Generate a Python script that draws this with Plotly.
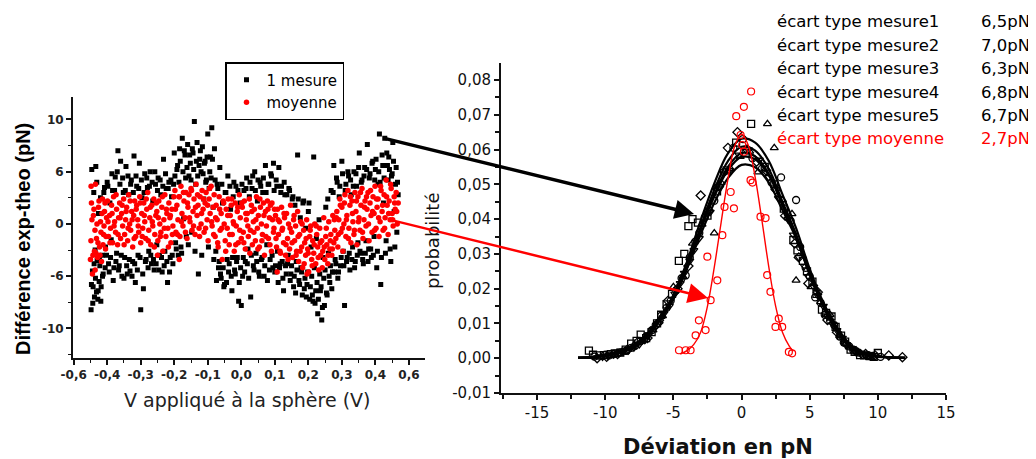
import plotly.graph_objects as go

# ---------------- left panel data : Différence exp-theo (pN) vs V (V) ----------------
mesure_pts = [
    (-0.448,-8.2),(-0.446,5.2),(-0.444,-4.5),(-0.442,-6.0),(-0.440,3.0),(-0.438,-7.0),(-0.436,-2.5),
    (-0.434,5.5),(-0.432,-6.5),(-0.430,-3.5),(-0.428,-7.2),(-0.426,1.0),(-0.424,-5.5),(-0.422,-4.0),
    (-0.420,2.5),(-0.418,-6.0),(-0.415,-3.0),(-0.412,-4.8),(-0.408,3.5),(-0.405,-2.2),(-0.400,4.0),
    (-0.396,-3.8),(-0.392,2.0),(-0.388,-1.5),(-0.384,3.2),(-0.380,-4.2),(-0.376,4.5),(-0.372,-2.8),
    (-0.368,7.0),(-0.364,-4.0),(-0.360,6.0),(-0.356,-5.0),(-0.352,3.0),(-0.348,-3.2),(-0.344,5.5),
    (-0.340,-4.8),(-0.336,2.8),(-0.332,-4.5),(-0.328,4.2),(-0.324,-3.6),(-0.320,6.5),(-0.316,-5.6),
    (-0.312,3.6),(-0.308,-3.0),(-0.304,5.8),(-0.300,-8.2),(-0.296,2.5),(-0.292,-6.2),(-0.288,4.8),
    (-0.284,-3.4),(-0.280,3.5),(-0.276,-2.6),(-0.272,5.0),(-0.268,-3.8),(-0.264,2.2),(-0.260,-4.4),
    (-0.256,3.8),(-0.252,-2.0),(-0.248,4.4),(-0.244,-3.0),(-0.240,2.8),(-0.236,-4.6),(-0.232,6.2),
    (-0.228,-2.6),(-0.224,3.4),(-0.220,-5.6),(-0.216,4.0),(-0.212,-3.2),(-0.208,2.6),(-0.204,-3.8),
    (-0.200,6.8),(-0.196,-1.8),(-0.192,5.2),(-0.188,-3.0),(-0.184,7.2),(-0.180,-2.2),(-0.176,8.2),
    (-0.172,0.5),(-0.168,6.6),(-0.164,-1.2),(-0.160,7.6),(-0.156,4.6),(-0.152,5.8),(-0.148,-0.8),
    (-0.144,6.8),(-0.140,9.8),(-0.136,3.8),(-0.132,7.8),(-0.128,-4.8),(-0.124,6.2),(-0.120,5.0),
    (-0.116,7.4),(-0.112,2.4),(-0.108,6.0),(-0.104,4.2),(-0.100,8.6),(-0.096,3.4),(-0.092,6.4),
    (-0.088,9.2),(-0.084,1.6),(-0.080,7.2),(-0.076,-2.6),(-0.072,3.8),(-0.068,-4.2),(-0.064,5.4),
    (-0.060,-5.2),(-0.056,2.0),(-0.052,-6.0),(-0.048,3.0),(-0.044,-5.6),(-0.040,4.6),(-0.036,-3.8),
    (-0.032,1.4),(-0.028,-6.4),(-0.024,2.6),(-0.020,-4.4),(-0.016,3.6),(-0.012,-3.2),(-0.008,-7.4),
    (-0.004,2.0),(0.000,-7.8),(0.004,-5.0),(0.008,3.2),(0.012,-3.6),(0.016,4.4),(0.020,-2.4),
    (0.024,2.6),(0.028,-7.0),(0.032,3.4),(0.036,-4.0),(0.040,5.0),(0.044,-2.8),(0.048,2.2),
    (0.052,-4.6),(0.056,4.0),(0.060,-3.4),(0.064,3.0),(0.068,-5.0),(0.072,5.6),(0.076,-2.0),
    (0.080,3.8),(0.084,-4.4),(0.088,4.8),(0.092,-3.0),(0.096,5.8),(0.100,-4.6),(0.104,4.2),
    (0.108,-2.6),(0.112,5.4),(0.116,-3.8),(0.120,3.6),(0.124,-5.2),(0.128,4.0),(0.132,-4.0),
    (0.136,2.8),(0.140,-3.0),(0.144,3.2),(0.148,-4.8),(0.152,2.4),(0.156,-6.0),(0.160,1.8),
    (0.164,-3.6),(0.168,6.6),(0.172,-5.4),(0.176,0.6),(0.180,-4.6),(0.184,2.0),(0.188,-6.2),
    (0.192,-0.4),(0.196,-5.8),(0.200,1.2),(0.204,-7.2),(0.208,-2.2),(0.212,-6.8),(0.216,6.4),
    (0.220,-7.6),(0.224,-1.4),(0.228,-8.6),(0.232,0.4),(0.236,-6.4),(0.240,-9.2),(0.244,-3.2),
    (0.248,-7.8),(0.252,1.6),(0.256,-6.8),(0.260,-2.8),(0.264,-5.6),(0.268,3.2),(0.272,-4.6),
    (0.276,5.6),(0.280,-3.4),(0.284,4.4),(0.288,-5.2),(0.292,2.6),(0.296,-4.0),(0.300,6.0),
    (0.304,-2.6),(0.308,-7.8),(0.312,3.8),(0.316,-3.2),(0.320,4.6),(0.324,-4.4),(0.328,2.8),
    (0.332,-2.2),(0.336,5.0),(0.340,-3.6),(0.344,3.6),(0.348,-1.8),(0.352,6.8),(0.356,-2.8),
    (0.360,4.2),(0.364,-3.8),(0.368,5.4),(0.372,-1.6),(0.376,7.6),(0.380,-2.4),(0.384,4.8),
    (0.388,-3.2),(0.392,6.0),(0.396,-1.2),(0.400,5.2),(0.404,-4.2),(0.408,3.8),(0.412,8.6),
    (0.416,-5.8),(0.420,6.6),(0.424,2.0),(0.428,8.2),(0.432,-1.6),(0.436,5.6),(0.440,6.4),
    (0.444,-2.4),(0.448,4.6),(0.452,7.8),(0.456,1.2),(0.460,3.8),(0.464,-0.8),(0.468,2.8),
    # second pass of the sweep
    (-0.447,-5.8),(-0.443,-7.6),(-0.439,-3.8),(-0.435,-5.2),(-0.431,4.0),(-0.427,-6.4),(-0.423,-3.2),
    (-0.419,-7.4),(-0.414,-5.0),(-0.410,3.0),(-0.406,-4.2),(-0.402,-3.0),
    (-0.398,3.6),(-0.394,-4.6),(-0.390,-3.2),(-0.386,4.8),(-0.382,-5.4),(-0.378,3.2),(-0.374,-3.6),
    (-0.370,5.0),(-0.366,-4.4),(-0.362,3.8),(-0.358,-3.0),(-0.354,4.4),(-0.350,-5.2),(-0.346,3.2),
    (-0.342,-4.0),(-0.338,4.6),(-0.334,-3.4),(-0.330,3.8),(-0.326,-5.0),(-0.322,3.0),(-0.318,-3.8),
    (-0.314,4.6),(-0.310,-4.4),(-0.306,3.4),(-0.302,-3.2),(-0.298,4.2),(-0.294,-4.8),(-0.290,3.0),
    (-0.286,-3.6),(-0.282,4.4),(-0.278,-4.2),(-0.274,3.6),(-0.270,-3.0),(-0.266,4.0),(-0.262,-3.4),
    (-0.258,5.0),(-0.254,-3.8),(-0.250,3.2),(-0.246,-4.4),(-0.242,4.2),(-0.238,-3.2),(-0.234,3.6),
    (-0.230,-4.0),(-0.226,4.8),(-0.222,-3.6),(-0.218,3.4),(-0.214,-4.6),(-0.210,4.2),(-0.206,-3.0),
    (-0.202,3.8),
    (-0.198,4.6),(-0.194,-2.4),(-0.190,5.6),(-0.186,4.0),(-0.182,6.0),(-0.178,-2.8),(-0.174,5.0),
    (-0.170,7.0),(-0.166,4.4),(-0.162,5.4),(-0.158,-2.0),(-0.154,6.6),(-0.150,4.2),(-0.146,7.2),
    (-0.142,5.2),(-0.138,-2.6),(-0.134,6.0),(-0.130,4.6),(-0.126,5.6),(-0.122,7.0),(-0.118,-3.0),
    (-0.114,4.8),(-0.110,5.8),(-0.106,4.0),(-0.102,6.4),(-0.098,-2.2),(-0.094,5.0),(-0.090,4.4),
    (-0.086,6.2),(-0.082,-3.4),
    (-0.078,4.2),(-0.074,-5.4),(-0.070,3.4),(-0.066,-3.6),(-0.062,-4.8),(-0.058,3.8),(-0.054,-4.2),
    (-0.050,-5.8),(-0.046,3.0),(-0.042,-3.4),(-0.038,-4.6),(-0.034,3.6),(-0.030,-5.0),(-0.026,-3.2),
    (-0.022,4.0),(-0.018,-4.8),(-0.014,-3.6),(-0.010,3.2),(-0.006,-5.6),(-0.002,-4.2),(0.002,3.8),
    (0.006,-3.2),(0.010,-4.6),(0.014,3.4),(0.018,-3.8),(0.022,-5.2),(0.026,4.0),(0.030,-3.0),
    (0.034,4.6),(0.038,-4.4),(0.042,3.2),(0.046,-3.6),(0.050,4.2),(0.054,-5.0),(0.058,3.6),
    (0.062,-3.2),(0.066,4.4),(0.070,-4.0),(0.074,3.0),(0.078,-5.4),(0.082,3.8),(0.086,-3.4),
    (0.090,4.6),(0.094,-4.2),(0.098,3.2),
    (0.102,-4.0),(0.106,3.6),(0.110,-5.6),(0.114,-4.2),(0.118,3.0),(0.122,-3.6),(0.126,-6.4),
    (0.130,2.8),(0.134,-4.8),(0.138,-3.8),(0.142,3.4),(0.146,-5.4),(0.150,-4.0),(0.154,2.6),
    (0.158,-5.0),(0.162,-6.6),(0.166,-4.4),(0.170,2.4),(0.174,-5.8),(0.178,-4.2),(0.182,-6.8),
    (0.186,2.2),(0.190,-5.2),(0.194,-7.0),(0.198,-4.6),(0.202,2.0),(0.206,-6.0),(0.210,-5.0),
    (0.214,-7.4),(0.218,-4.2),(0.222,-6.4),(0.226,-5.6),(0.230,-7.2),(0.234,-4.8),(0.238,-6.0),
    (0.242,-8.0),(0.246,-5.2),(0.250,-4.4),(0.254,-6.6),(0.258,2.4),(0.262,-5.0),(0.266,-4.0),
    (0.270,-6.2),(0.274,3.0),(0.278,-4.6),
    (0.282,-3.8),(0.286,4.0),(0.290,-4.6),(0.294,3.6),(0.298,-3.2),(0.302,4.8),(0.306,-4.0),
    (0.310,3.2),(0.314,-3.6),(0.318,5.0),(0.322,-2.8),(0.326,4.2),(0.330,-3.4),(0.334,3.6),
    (0.338,-4.2),(0.342,4.8),(0.346,-3.0),(0.350,5.4),(0.354,-2.6),(0.358,4.0),(0.362,-3.4),
    (0.366,4.6),(0.370,-2.8),(0.374,5.2),(0.378,-3.6),(0.382,4.4),(0.386,-2.4),(0.390,5.8),
    (0.394,-3.0),(0.398,4.2),(0.402,6.2),(0.406,-2.6),(0.410,5.0),(0.414,4.0),(0.418,-3.2),
    (0.422,5.6),(0.426,4.4),(0.430,-2.8),(0.434,6.8),(0.438,4.2),(0.442,5.2),(0.446,-3.6),
    (0.450,4.8),(0.454,6.0),(0.458,-2.2),(0.462,5.4),(0.466,4.0),
]

moyenne_pts = [
    (-0.450,-3.4),(-0.447,2.0),(-0.444,-4.8),(-0.441,0.8),(-0.438,-2.6),(-0.435,3.8),(-0.432,-1.4),
    (-0.429,-3.2),(-0.426,1.6),(-0.423,-2.2),(-0.420,0.2),(-0.417,-3.6),(-0.414,2.4),(-0.411,-1.0),
    (-0.408,1.2),(-0.405,-2.4),(-0.402,0.6),(-0.448,3.6),(-0.436,-4.4),
    (-0.399,2.2),(-0.396,-1.2),(-0.393,0.8),(-0.390,-0.4),(-0.387,1.8),(-0.384,-1.8),(-0.381,2.6),
    (-0.378,0.2),(-0.375,-0.8),(-0.372,1.4),(-0.369,-2.0),(-0.366,0.6),(-0.363,2.0),(-0.360,-1.4),
    (-0.357,1.0),(-0.354,-0.2),(-0.351,2.4),(-0.348,-1.0),(-0.345,0.4),(-0.342,1.6),(-0.339,-1.6),
    (-0.336,2.8),(-0.333,0.0),(-0.330,-0.6),(-0.327,1.2),(-0.324,-2.2),(-0.321,0.8),(-0.318,2.2),
    (-0.315,-1.2),(-0.312,1.8),(-0.309,0.4),(-0.306,-0.8),(-0.303,2.6),(-0.300,-1.8),(-0.297,1.0),
    (-0.294,-0.4),(-0.291,2.0),(-0.288,0.2),(-0.285,-1.4),(-0.282,1.4),(-0.279,3.0),(-0.276,-0.6),
    (-0.273,0.6),(-0.270,-2.0),(-0.267,1.8),(-0.264,-0.2),(-0.261,2.4),(-0.258,-1.0),(-0.255,0.8),
    (-0.252,1.2),(-0.249,-1.6),(-0.246,2.2),(-0.243,0.0),(-0.240,-0.8),(-0.237,1.6),(-0.234,-2.6),
    (-0.231,0.4),(-0.228,2.8),(-0.225,-1.2),(-0.222,1.0),(-0.219,-0.4),(-0.216,2.0),(-0.213,0.6),
    (-0.210,-1.8),(-0.207,1.4),(-0.204,-0.2),(-0.201,2.6),(-0.250,-3.0),
    (-0.198,3.2),(-0.195,-0.8),(-0.192,1.8),(-0.189,0.4),(-0.186,2.6),(-0.183,-1.2),(-0.180,3.6),
    (-0.177,1.0),(-0.174,-0.2),(-0.171,2.2),(-0.168,0.6),(-0.165,3.0),(-0.162,-1.4),(-0.159,1.6),
    (-0.156,2.8),(-0.153,0.2),(-0.150,3.4),(-0.147,-0.6),(-0.144,1.2),(-0.141,2.4),(-0.138,-1.0),
    (-0.135,3.8),(-0.132,0.8),(-0.129,1.8),(-0.126,-0.4),(-0.123,2.6),(-0.120,0.0),(-0.117,3.2),
    (-0.114,1.4),(-0.111,-0.8),(-0.108,2.0),(-0.105,3.0),(-0.102,0.4),(-0.099,-1.6),(-0.096,2.4),
    (-0.093,1.0),(-0.090,3.6),(-0.087,-0.2),(-0.084,1.6),(-0.081,2.8),(-0.185,-3.4),
    (-0.078,-1.2),(-0.075,1.8),(-0.072,0.4),(-0.069,-2.2),(-0.066,2.6),(-0.063,-0.6),(-0.060,1.0),
    (-0.057,-3.4),(-0.054,2.2),(-0.051,0.0),(-0.048,-1.6),(-0.045,1.4),(-0.042,-0.4),(-0.039,2.4),
    (-0.036,-2.0),(-0.033,0.8),(-0.030,1.8),(-0.027,-1.0),(-0.024,0.2),(-0.021,-2.6),(-0.018,2.0),
    (-0.015,-0.2),(-0.012,1.2),(-0.009,-1.8),(-0.006,2.8),(-0.003,0.6),(0.000,-1.4),(0.003,1.6),
    (0.006,-0.8),(0.009,2.2),(0.012,-2.4),(0.015,0.4),(0.018,1.0),(0.021,-1.2),(0.024,2.4),
    (0.027,-0.6),(0.030,1.8),(0.033,-2.0),(0.036,0.2),(0.039,1.4),(0.042,-1.6),(0.045,2.6),
    (0.048,-0.4),(0.051,0.8),(0.054,-2.2),(0.057,1.6),(0.060,0.0),(0.063,-1.0),(0.066,2.0),
    (0.069,-3.0),(0.072,1.2),(0.075,-0.2),(0.078,2.2),(0.081,-1.4),(0.084,0.6),(0.087,1.8),
    (0.090,-2.6),(0.093,0.4),(0.096,-0.8),(0.099,1.4),
    (0.102,0.8),(0.105,-2.2),(0.108,1.4),(0.111,-1.0),(0.114,0.2),(0.117,-2.8),(0.120,1.6),
    (0.123,-0.4),(0.126,-1.8),(0.129,0.6),(0.132,-3.0),(0.135,1.0),(0.138,-1.4),(0.141,0.0),
    (0.144,-2.4),(0.147,1.8),(0.150,-0.8),(0.153,-3.2),(0.156,0.4),(0.159,-1.6),(0.162,-0.2),
    (0.165,-2.6),(0.168,1.2),(0.171,-3.6),(0.174,-1.0),(0.177,0.2),(0.180,-2.2),(0.183,-4.2),
    (0.186,-0.6),(0.189,-1.8),(0.192,-3.0),(0.195,0.4),(0.198,-2.4),(0.201,-4.6),(0.204,-1.2),
    (0.207,-0.2),(0.210,-3.4),(0.213,-1.6),(0.216,-2.8),(0.219,0.0),(0.222,-3.8),(0.225,-1.0),
    (0.228,-2.2),(0.231,-4.4),(0.234,-0.4),(0.237,-3.0),(0.240,-1.6),(0.243,-2.6),(0.246,0.6),
    (0.249,-3.4),(0.252,-1.2),(0.255,-2.0),(0.258,-3.8),(0.261,0.2),(0.264,-2.4),(0.267,-1.0),
    (0.270,-3.0),(0.273,0.8),(0.276,-1.8),(0.279,-0.6),(0.107,-4.6),(0.196,-4.8),
    (0.282,-1.4),(0.285,1.2),(0.288,-2.2),(0.291,0.4),(0.294,2.4),(0.297,-0.8),(0.300,1.6),
    (0.303,-2.6),(0.306,0.0),(0.309,2.8),(0.312,-1.2),(0.315,0.8),(0.318,3.2),(0.321,-0.4),
    (0.324,1.8),(0.327,-1.8),(0.330,2.2),(0.333,0.2),(0.336,-1.0),(0.339,3.0),(0.342,1.2),
    (0.345,-2.0),(0.348,2.6),(0.351,0.6),(0.354,-0.6),(0.357,1.8),(0.360,3.4),(0.363,-1.4),
    (0.366,0.4),(0.369,2.2),(0.372,-0.2),(0.375,1.4),(0.378,3.0),(0.381,-1.6),(0.384,2.0),
    (0.387,0.8),(0.390,-0.8),(0.393,2.6),(0.396,1.0),(0.399,3.6),(0.402,-0.4),(0.405,1.6),
    (0.408,2.4),(0.411,-1.2),(0.414,0.2),(0.417,3.2),(0.420,1.2),(0.423,-0.6),(0.426,2.8),
    (0.429,0.6),(0.432,4.2),(0.435,1.8),(0.438,-1.0),(0.441,2.2),(0.444,0.4),(0.447,3.4),
    (0.450,1.0),(0.453,-0.2),(0.456,2.6),(0.459,1.4),(0.462,3.0),(0.465,0.0),(0.468,2.0),
    # second pass
    (-0.4485,-1.6),(-0.4455,0.4),(-0.4425,-3.0),(-0.4395,1.4),(-0.4365,-0.6),(-0.4335,-2.8),(-0.4305,0.0),
    (-0.4275,-1.8),(-0.4245,2.2),(-0.4215,-3.0),(-0.4185,-0.8),(-0.4155,1.0),(-0.4125,-2.0),(-0.4095,-0.2),
    (-0.4065,2.0),(-0.4035,-1.2),
    (-0.3975,0.2),(-0.3915,-1.8),(-0.3855,1.0),(-0.3795,-0.2),(-0.3735,2.8),(-0.3675,-1.0),(-0.3615,0.6),
    (-0.3555,1.8),(-0.3495,-2.0),(-0.3435,1.2),(-0.3375,-0.4),(-0.3315,2.2),(-0.3255,0.4),(-0.3195,-1.4),
    (-0.3135,1.4),(-0.3075,-0.2),(-0.3015,2.0),(-0.2955,-1.2),(-0.2895,0.8),(-0.2835,2.4),(-0.2775,-1.6),
    (-0.2715,1.6),(-0.2655,0.2),(-0.2595,-2.2),(-0.2535,2.0),(-0.2475,0.6),(-0.2415,-1.2),(-0.2355,2.6),
    (-0.2295,-0.4),(-0.2235,1.4),(-0.2175,-2.2),(-0.2115,0.8),(-0.2055,-1.0),
    (-0.1965,1.4),(-0.1905,-1.0),(-0.1845,2.6),(-0.1785,0.2),(-0.1725,3.0),(-0.1665,-0.8),(-0.1605,2.0),
    (-0.1545,0.6),(-0.1485,3.2),(-0.1425,-0.2),(-0.1365,1.6),(-0.1305,2.8),(-0.1245,-1.2),(-0.1185,1.0),
    (-0.1125,2.4),(-0.1065,-0.4),(-0.1005,1.8),(-0.0945,3.4),(-0.0885,0.2),(-0.0825,-1.0),
    (-0.0765,0.6),(-0.0705,-1.8),(-0.0645,1.4),(-0.0585,-0.4),(-0.0525,2.0),(-0.0465,-2.6),(-0.0405,0.8),
    (-0.0345,-1.0),(-0.0285,2.4),(-0.0225,0.0),(-0.0165,-2.0),(-0.0105,1.6),(-0.0045,-0.6),(0.0015,2.0),
    (0.0075,-1.8),(0.0135,1.0),(0.0195,-0.2),(0.0255,-2.8),(0.0315,1.2),(0.0375,-0.8),(0.0435,0.4),
    (0.0495,-2.4),(0.0555,2.4),(0.0615,-1.6),(0.0675,0.8),(0.0735,-1.2),(0.0795,1.4),(0.0855,-2.0),
    (0.0915,2.0),(0.0975,-0.4),
    (0.1035,-1.4),(0.1095,0.4),(0.1155,-2.6),(0.1215,-0.6),(0.1275,1.0),(0.1335,-2.0),(0.1395,-3.4),
    (0.1455,-0.4),(0.1515,-1.8),(0.1575,0.8),(0.1635,-3.0),(0.1695,-1.2),(0.1755,-2.6),(0.1815,0.0),
    (0.1875,-3.8),(0.1935,-1.4),(0.1995,-2.8),(0.2055,-0.6),(0.2115,-4.0),(0.2175,-2.0),(0.2235,-0.2),
    (0.2295,-3.2),(0.2355,-1.8),(0.2415,-4.2),(0.2475,-2.2),(0.2535,-0.4),(0.2595,-3.0),(0.2655,-1.6),
    (0.2715,-2.4),(0.2775,0.4),
    (0.2835,0.6),(0.2895,-1.0),(0.2955,1.8),(0.3015,-0.4),(0.3075,2.0),(0.3135,0.4),(0.3195,-1.4),
    (0.3255,2.6),(0.3315,1.0),(0.3375,-0.6),(0.3435,2.2),(0.3495,0.2),(0.3555,3.0),(0.3615,-0.8),
    (0.3675,1.6),(0.3735,2.6),(0.3795,0.0),(0.3855,3.2),(0.3915,1.2),(0.3975,-0.6),(0.4035,2.4),
    (0.4095,0.6),(0.4155,3.6),(0.4215,1.8),(0.4275,-0.4),(0.4335,2.6),(0.4395,1.0),(0.4455,3.8),
    (0.4515,0.4),(0.4575,2.0),(0.4635,1.2),
]

left_xticks = [-0.5, -0.4, -0.3, -0.2, -0.1, 0.0, 0.1, 0.2, 0.3, 0.4, 0.5]
left_xlabels = ["-0,6", "-0,4", "-0,3", "-0,2", "-0,1", "0,0", "0,1", "0,2", "0,3", "0,4", "0,6"]
left_yticks = [-10, -5, 0, 5, 10]
left_ylabels = ["-10", "-6", "0", "6", "10"]

# ---------------- right panel data : probabilité vs Déviation (pN) ----------------
mesure1_pts = [(-11.2,0.0022),(-10.4,0.0008),(-9.6,0.0012),(-8.9,0.0016),(-8.1,0.0042),(-7.4,0.0068),
    (-6.6,0.0075),(-5.9,0.0125),(-5.1,0.0185),(-4.6,0.0280),(-4.2,0.0300),(-3.6,0.0400),(-3.2,0.0390),
    (-2.5,0.0410),(-1.8,0.0480),(-1.1,0.0540),(-0.4,0.0620),(0.3,0.0590),(0.7,0.0674),(1.7,0.0550),
    (2.4,0.0500),(3.1,0.0430),(3.8,0.0340),(4.5,0.0280),(5.2,0.0220),(5.9,0.0140),(6.6,0.0120),
    (7.3,0.0065),(8.0,0.0025),(8.7,0.0009),(9.4,0.0006),(10.0,0.0015),
    (-10.9,0.0010),(-10.1,0.0009),(-9.3,0.0014),(-8.5,0.0025),(-7.7,0.0050),(-7.0,0.0058),(-6.2,0.0100),
    (-5.5,0.0155),(-3.9,0.0380),(4.1,0.0310),(4.8,0.0250),(5.5,0.0185),(6.2,0.0130),(6.9,0.0090),
    (7.6,0.0048),(8.3,0.0018),(9.0,0.0008),(9.7,0.0004)]
mesure2_pts = [(-10.8,0.0005),(-10.0,0.0010),(-9.3,0.0013),(-8.5,0.0021),(-7.8,0.0036),(-7.0,0.0063),
    (-6.3,0.0095),(-5.5,0.0145),(-4.8,0.0195),(-4.1,0.0238),(-3.4,0.0335),(-2.7,0.0405),(-2.0,0.0453),
    (-1.3,0.0535),(-0.6,0.0605),(0.1,0.0630),(0.8,0.0575),(1.5,0.0545),(2.2,0.0505),(2.9,0.0520),
    (3.6,0.0395),(4.0,0.0455),(4.7,0.0260),(5.4,0.0175),(6.1,0.0125),(6.8,0.0095),(7.5,0.0045),
    (8.2,0.0022),(8.9,0.0010),(9.6,0.0007),
    (-9.7,0.0008),(-8.9,0.0017),(-8.1,0.0030),(-7.4,0.0049),(-6.6,0.0080),(-5.9,0.0122),(-5.2,0.0165),
    (-4.4,0.0230),(-3.8,0.0290),(-3.1,0.0360),(4.3,0.0320),(5.0,0.0235),(5.8,0.0160),(6.5,0.0108),
    (7.2,0.0062),(7.9,0.0034),(8.6,0.0016),(9.3,0.0009),(10.2,0.0004)]
mesure3_pts = [(-10.3,0.0003),(-9.5,0.0009),(-8.8,0.0018),(-8.0,0.0032),(-7.3,0.0049),(-6.5,0.0081),
    (-5.8,0.0122),(-5.0,0.0205),(-4.3,0.0235),(-3.6,0.0330),(-2.9,0.0385),(-2.0,0.0360),(-1.5,0.0505),
    (-0.8,0.0545),(-0.1,0.0580),(0.6,0.0595),(1.2,0.0535),(1.9,0.0674),(2.4,0.0605),(3.0,0.0455),
    (3.7,0.0415),(4.0,0.0224),(5.1,0.0205),(5.8,0.0162),(6.5,0.0125),(7.2,0.0065),(7.9,0.0032),
    (8.6,0.0016),(9.3,0.0005)]
mesure4_pts = [(-9.8,0.0006),(-9.0,0.0014),(-8.3,0.0022),(-7.5,0.0040),(-6.8,0.0068),(-6.0,0.0105),
    (-5.3,0.0150),(-4.5,0.0215),(-3.8,0.0280),(-3.1,0.0345),(-2.3,0.0420),(-1.6,0.0490),(-0.9,0.0540),
    (-0.2,0.0585),(0.5,0.0600),(1.3,0.0570),(2.0,0.0520),(2.7,0.0460),(3.4,0.0400),(4.2,0.0290),
    (4.9,0.0235),(5.6,0.0180),(6.3,0.0120),(7.0,0.0080),(7.7,0.0040),(8.4,0.0018),(9.1,0.0008),
    (-10.2,0.0004),(-9.4,0.0010),(-8.7,0.0018),(-7.9,0.0030),(-7.1,0.0052),(-6.4,0.0085),(-5.7,0.0128),
    (-4.9,0.0185),(-4.2,0.0245),(-3.5,0.0310),(3.8,0.0355),(4.6,0.0265),(5.3,0.0205),(6.0,0.0150),
    (6.7,0.0098),(7.4,0.0058),(8.1,0.0028),(8.8,0.0012),(9.5,0.0006)]
mesure5_pts = [(-10.6,0.0000),(-9.9,0.0004),(-9.1,0.0012),(-8.4,0.0024),(-7.6,0.0047),(-6.9,0.0058),
    (-6.1,0.0102),(-5.4,0.0165),(-4.7,0.0200),(-3.9,0.0265),(-3.0,0.0468),(-2.4,0.0425),(-1.7,0.0495),
    (-1.0,0.0605),(-0.3,0.0650),(0.4,0.0600),(1.1,0.0565),(1.8,0.0540),(2.5,0.0485),(3.2,0.0410),
    (3.9,0.0330),(4.2,0.0290),(4.9,0.0215),(5.6,0.0190),(6.3,0.0110),(7.0,0.0075),(7.7,0.0040),
    (8.4,0.0020),(9.1,0.0012),(9.8,0.0008),(10.8,0.0008),(11.8,0.0003)]
moyenne_hist = [(0.70,0.0767),(0.17,0.0723),(-0.39,0.0696),(-0.07,0.0642),(0.05,0.0613),(0.17,0.0594),
    (-0.56,0.0431),(-0.80,0.0478),(0.66,0.0512),(0.80,0.0505),(1.39,0.0407),(1.76,0.0403),(-1.41,0.0354),
    (-1.25,0.0435),(-2.51,0.0292),(1.88,0.0239),(-1.78,0.0224),(-2.27,0.0167),(2.12,0.0191),
    (-3.13,0.0109),(-2.64,0.0081),(-3.37,0.0066),(2.73,0.0114),(2.49,0.0090),(2.98,0.0090),
    (-4.59,0.0023),(-4.10,0.0023),(-3.74,0.0023),(3.47,0.0018),(3.71,0.0014)]

fit_x = [-12, -11, -10, -9, -8, -7, -6, -5, -4, -3, -2, -1, 0, 1, 2, 3, 4, 5, 6, 7, 8, 9, 10, 11, 12]
fit1 = [0.0001,0.0003,0.0008,0.0016,0.0032,0.0064,0.0117,0.0182,0.0278,0.0396,0.0503,0.0589,0.0631,
        0.0620,0.0567,0.0471,0.0374,0.0257,0.0160,0.0086,0.0032,0.0013,0.0005,0.0002,0.0001]
fit2 = [0.0001,0.0003,0.0008,0.0015,0.0030,0.0060,0.0110,0.0170,0.0260,0.0370,0.0470,0.0550,0.0590,
        0.0580,0.0530,0.0440,0.0350,0.0240,0.0150,0.0080,0.0030,0.0012,0.0005,0.0002,0.0001]
fit3 = [0.0002,0.0004,0.0010,0.0019,0.0036,0.0068,0.0118,0.0175,0.0258,0.0356,0.0447,0.0518,0.0556,
        0.0549,0.0505,0.0426,0.0345,0.0243,0.0158,0.0089,0.0037,0.0015,0.0006,0.0003,0.0001]
fit4 = [0.0001,0.0002,0.0007,0.0014,0.0029,0.0058,0.0108,0.0170,0.0262,0.0378,0.0484,0.0567,0.0608,
        0.0597,0.0544,0.0450,0.0356,0.0242,0.0149,0.0078,0.0029,0.0011,0.0004,0.0002,0.0001]
fit5 = [0.0001,0.0003,0.0009,0.0017,0.0033,0.0065,0.0117,0.0178,0.0268,0.0372,0.0465,0.0541,0.0579,
        0.0572,0.0526,0.0442,0.0352,0.0245,0.0155,0.0084,0.0033,0.0013,0.0005,0.0002,0.0001]
fit_moy_x = [-4.5,-4,-3.5,-3,-2.5,-2,-1.5,-1,-0.5,0,0.5,1,1.5,2,2.5,3,3.5,3.8]
fit_moy = [0.0012,0.0022,0.0040,0.0075,0.0150,0.0262,0.0390,0.0515,0.0610,0.0645,0.0612,0.0520,
           0.0395,0.0262,0.0150,0.0075,0.0035,0.0020]

right_xticks = [-15, -10, -5, 0, 5, 10, 15]
right_yticks = [-0.01, 0.0, 0.01, 0.02, 0.03, 0.04, 0.05, 0.06, 0.07, 0.08]
right_ylabels = ["-0,01", "0,00", "0,01", "0,02", "0,03", "0,04", "0,05", "0,06", "0,07", "0,08"]

stats_labels = ["écart type mesure1", "écart type mesure2", "écart type mesure3",
                "écart type mesure4", "écart type mesure5", "écart type moyenne"]
stats_values = ["6,5pN", "7,0pN", "6,3pN", "6,8pN", "6,7pN", "2,7pN"]
stats_colors = ["black", "black", "black", "black", "black", "red"]

# the page body adds an 8 px margin: the figure is sized to fit the window and
# every target pixel position (in window coordinates) is converted to paper units
OFF = 8
W, H = 1036 - OFF, 459 - OFF
def px(x): return (x - OFF) / W
def py(y): return 1 - (y - OFF) / H

REG = "DejaVu Sans"
ARIAL = "Liberation Sans"

fig = go.Figure()

# left panel
fig.add_trace(go.Scatter(x=[p[0] for p in mesure_pts], y=[p[1] for p in mesure_pts], mode="markers",
                         name="1 mesure", marker=dict(symbol="square", size=5, color="black"),
                         xaxis="x", yaxis="y"))
fig.add_trace(go.Scatter(x=[p[0] for p in moyenne_pts], y=[p[1] for p in moyenne_pts], mode="markers",
                         name="moyenne", marker=dict(symbol="circle", size=5.5, color="red"),
                         xaxis="x", yaxis="y"))

# right panel
sym = ["square-open", "circle-open", "triangle-up-open", "triangle-down-open", "diamond-open"]
for pts, s in zip([mesure1_pts, mesure2_pts, mesure3_pts, mesure4_pts, mesure5_pts], sym):
    fig.add_trace(go.Scatter(x=[p[0] for p in pts], y=[p[1] for p in pts], mode="markers",
                             marker=dict(symbol=s, size=7, color="black", line=dict(width=1.3, color="black")),
                             showlegend=False, xaxis="x2", yaxis="y2"))
for f in [fit1, fit2, fit3, fit4, fit5]:
    fig.add_trace(go.Scatter(x=fit_x, y=f, mode="lines", line=dict(color="black", width=2.2, shape="spline"),
                             showlegend=False, xaxis="x2", yaxis="y2"))
fig.add_trace(go.Scatter(x=[p[0] for p in moyenne_hist], y=[p[1] for p in moyenne_hist], mode="markers",
                         marker=dict(symbol="circle-open", size=7, color="red", line=dict(width=1.2, color="red")),
                         showlegend=False, xaxis="x2", yaxis="y2"))
fig.add_trace(go.Scatter(x=fit_moy_x, y=fit_moy, mode="lines", line=dict(color="red", width=1.4, shape="spline"),
                         showlegend=False, xaxis="x2", yaxis="y2"))

axis_common = dict(showline=True, linecolor="#111", linewidth=2, ticks="outside", ticklen=5, tickwidth=1.5,
                   tickcolor="#111", showgrid=False, zeroline=False, mirror=False, automargin=False)

fig.update_layout(
    width=W, height=H, margin=dict(l=0, r=0, t=0, b=0, pad=0, autoexpand=False),
    paper_bgcolor="white", plot_bgcolor="white",
    font=dict(family=REG, color="black"),
    xaxis=dict(domain=[px(73), px(425)], range=[-0.502, 0.548], anchor="y",
               tickmode="array", tickvals=left_xticks, ticktext=left_xlabels,
               tickfont=dict(family=REG, size=12, weight="bold", color="#222"),
               minor=dict(tickmode="linear", tick0=0, dtick=0.05, ticks="outside", ticklen=3, tickwidth=1.2, tickcolor="#111"),
               **axis_common),
    yaxis=dict(domain=[py(357.5), py(97)], range=[-12.78, 12.15], anchor="x",
               tickmode="array", tickvals=left_yticks, ticktext=left_ylabels,
               tickfont=dict(family=REG, size=12, weight="bold", color="#222"),
               minor=dict(tickmode="linear", tick0=0, dtick=2.5, ticks="outside", ticklen=3, tickwidth=1.2, tickcolor="#111"),
               **axis_common),
    xaxis2=dict(domain=[px(501), px(946)], range=[-17.65, 15], anchor="y2",
                tickmode="array", tickvals=right_xticks, ticktext=[str(v) for v in right_xticks],
                tickfont=dict(family=REG, size=15, color="#111"),
                minor=dict(tickmode="linear", tick0=0, dtick=2.5, ticks="outside", ticklen=4, tickwidth=1.5, tickcolor="#111"),
                **axis_common),
    yaxis2=dict(domain=[py(393), py(63)], range=[-0.01, 0.0849], anchor="x2",
                tickmode="array", tickvals=right_yticks, ticktext=right_ylabels,
                tickfont=dict(family=REG, size=15, color="#111"),
                minor=dict(tickmode="linear", tick0=0, dtick=0.005, ticks="outside", ticklen=4, tickwidth=1.5, tickcolor="#111"),
                **axis_common),
    legend=dict(x=px(225), y=py(62), xanchor="left", yanchor="top", bordercolor="black", borderwidth=1.5,
                bgcolor="white", font=dict(family=REG, size=15, color="black"),
                tracegroupgap=0, itemwidth=30),
    showlegend=True,
)

ann = []
def label(text, x, y, size, family=REG, angle=0, color="black", xanchor="center"):
    return dict(text=text, x=px(x), y=py(y), xref="paper", yref="paper", xanchor=xanchor, yanchor="middle",
                showarrow=False, textangle=angle, font=dict(family=family, size=size, color=color))

ann.append(label("<b>Différence exp-theo (pN)</b>", 23, 239, 20, family=ARIAL, angle=-90))
ann.append(label("V appliqué à la sphère (V)", 247, 400, 19, color="#222"))
ann.append(label("probabilité", 432, 241, 18, angle=-90, color="#111"))
ann.append(label("<b>Déviation en pN</b>", 718, 447, 21, color="#111"))
row_y = [22, 45, 68, 92, 115, 138]
for lab, val, col, yy in zip(stats_labels, stats_values, stats_colors, row_y):
    ann.append(label(lab, 775, yy, 16.5, color=col, xanchor="left"))
    ann.append(label(val, 979, yy, 16.5, color=col, xanchor="left"))
# arrows linking the two panels
ann.append(dict(text="", x=px(694), y=py(214), xref="paper", yref="paper", showarrow=True,
                ax=383 - 694, ay=138 - 214, arrowhead=2, arrowsize=1.1, arrowwidth=3.5, arrowcolor="black"))
ann.append(dict(text="", x=px(708), y=py(298), xref="paper", yref="paper", showarrow=True,
                ax=387 - 708, ay=219 - 298, arrowhead=2, arrowsize=1.6, arrowwidth=2.5, arrowcolor="red"))
fig.update_layout(annotations=ann)

fig.write_html("out.html")
